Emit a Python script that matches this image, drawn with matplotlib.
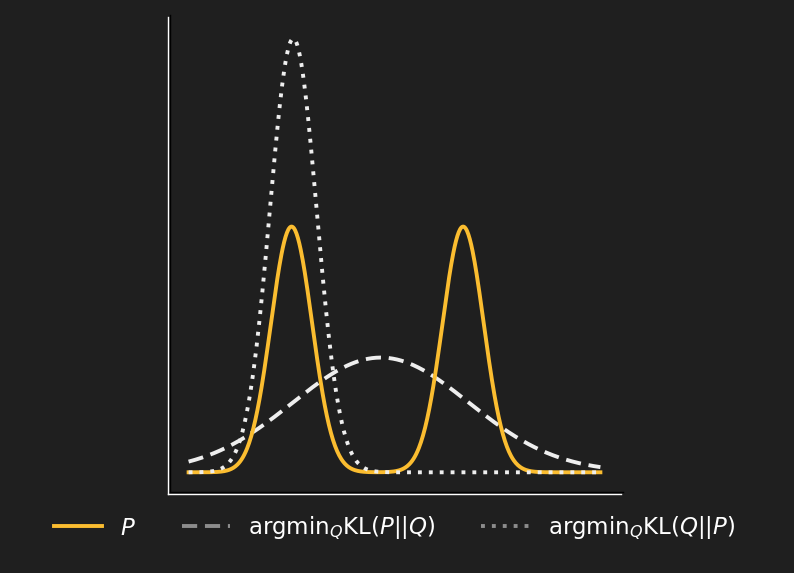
import numpy as np
import matplotlib.pyplot as plt
import matplotlib.patheffects as pe

# distribution parameters
p_means = [3.0, 8.0]
p_sigmas = [0.6, 0.6]
p_weights = [0.5, 0.5]
q_forward_mean, q_forward_sigma = 5.6, 2.57   # argmin KL(P||Q)
q_reverse_mean, q_reverse_sigma = 3.05, 0.68  # argmin KL(Q||P)
x_lo, x_hi = 0.0, 12.0

labels = [r'$P$', r'argmin$_Q$KL($P||Q$)', r'argmin$_Q$KL($Q||P$)']

bg = '#1f1f1f'
orange = '#fbbd30'
white = '#eeeeee'


def normal(x, mu, sigma):
    return np.exp(-0.5 * ((x - mu) / sigma) ** 2) / (sigma * np.sqrt(2 * np.pi))


x = np.linspace(x_lo, x_hi, 600)
p = sum(w * normal(x, m, s) for m, s, w in zip(p_means, p_sigmas, p_weights))
q_fwd = normal(x, q_forward_mean, q_forward_sigma)
q_rev = normal(x, q_reverse_mean, q_reverse_sigma)

fig = plt.figure(figsize=(7.94, 5.73), dpi=100, facecolor=bg)
ax = fig.add_axes([0.2116, 0.1379, 0.5705, 0.8324], facecolor=bg)

ax.plot(x, q_fwd, color=white, lw=2.8, ls=(0, (3.9, 2.0)), label=labels[1], zorder=2)
ax.plot(x, p, color=orange, lw=2.8, label=labels[0], zorder=3)
ax.plot(x, q_rev, color=white, lw=2.8, ls=(0, (1, 1.8)), label=labels[2], zorder=4)

ax.set_xticks([])
ax.set_yticks([])
for side in ['top', 'right']:
    ax.spines[side].set_visible(False)
for side in ['left', 'bottom']:
    sp = ax.spines[side]
    sp.set_color('white')
    sp.set_linewidth(1.0)
    sp.set_path_effects([pe.SimpleLineShadow(offset=(1.2, 1.2), shadow_color='black', alpha=1.0),
                         pe.Normal()])

handles, labs = ax.get_legend_handles_labels()
order = [1, 0, 2]
leg = ax.legend([handles[i] for i in order], [labs[i] for i in order],
                loc='upper center', bbox_to_anchor=(0.5, 0.0), ncol=3, frameon=False,
                fontsize=16.5, labelcolor='white', handlelength=2.1, columnspacing=2.0,
                handletextpad=0.8)
leg.get_lines()[1].set_color('#8c8c8c')
leg.get_lines()[2].set_color('#8c8c8c')

fig.savefig('out.png', dpi=100, facecolor=bg)
